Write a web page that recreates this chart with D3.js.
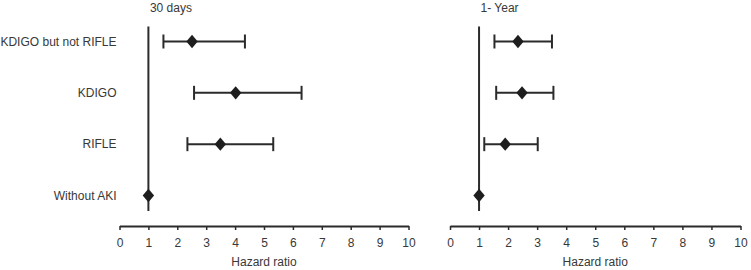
<!DOCTYPE html>
<html>
<head>
<meta charset="utf-8">
<script src="https://cdn.jsdelivr.net/npm/d3@7"></script>
<style>
  body { margin: 0; background: #fff; }
  svg text { font-family: "Liberation Sans", Arial, sans-serif; font-size: 12px; fill: #383838; }
</style>
</head>
<body>
<div id="chart"></div>
<script>
const categories = ["KDIGO but not RIFLE", "KDIGO", "RIFLE", "Without AKI"];
const panelTitles = ["30 days", "1- Year"];
const ticks = [0, 1, 2, 3, 4, 5, 6, 7, 8, 9, 10];

// hazard ratio, lower CI, upper CI (null = no interval drawn)
const hr30 = [2.51, 4.02, 3.49, 1];
const lo30 = [1.52, 2.58, 2.35, null];
const hi30 = [4.34, 6.30, 5.32, null];

const hr1y = [2.34, 2.48, 1.90, 1];
const lo1y = [1.53, 1.59, 1.18, null];
const hi1y = [3.51, 3.56, 3.02, null];

const W = 751, H = 270;
const ink = "#2b2b2b";

const svg = d3.select("#chart").append("svg")
  .attr("width", W)
  .attr("height", H);

const y = d3.scalePoint().domain(categories).range([41.5, 195.5]);

const panels = [
  {title: panelTitles[0], hr: hr30, lo: lo30, hi: hi30, x0: 119.5, x1: 408.5, labels: true},
  {title: panelTitles[1], hr: hr1y, lo: lo1y, hi: hi1y, x0: 450, x1: 740.5, labels: false}
];

const diamond = d3.symbol().type(d3.symbolDiamond).size(85);

panels.forEach(function(p) {
  const x = d3.scaleLinear().domain([0, 10]).range([p.x0, p.x1]);
  const g = svg.append("g");

  // title
  g.append("text")
    .attr("x", x(1) + 1.5)
    .attr("y", 11.5)
    .text(p.title);

  // reference line at HR = 1
  g.append("line")
    .attr("x1", x(1)).attr("x2", x(1))
    .attr("y1", 26.5).attr("y2", 211)
    .attr("stroke", ink)
    .attr("stroke-width", 2);

  // x axis
  const axis = d3.axisBottom(x).tickValues(ticks).tickSize(4).tickPadding(8).tickSizeOuter(0);
  const ax = g.append("g")
    .attr("transform", "translate(0,226)")
    .call(axis);
  ax.select(".domain").attr("stroke", ink).attr("stroke-width", 2);
  ax.selectAll(".tick line").attr("stroke", ink).attr("stroke-width", 1.5);
  ax.selectAll(".tick text")
    .attr("fill", "#383838")
    .style("font-family", "\"Liberation Sans\", Arial, sans-serif")
    .style("font-size", "12px");

  g.append("text")
    .attr("x", (p.x0 + p.x1) / 2)
    .attr("y", 266)
    .attr("text-anchor", "middle")
    .text("Hazard ratio");

  // category labels (left panel only)
  if (p.labels) {
    g.selectAll("text.cat")
      .data(categories)
      .join("text")
      .attr("class", "cat")
      .attr("x", 116.5)
      .attr("y", d => y(d))
      .attr("dy", "0.36em")
      .attr("text-anchor", "end")
      .text(d => d);
  }

  const rows = categories.map((c, i) => ({cat: c, hr: p.hr[i], lo: p.lo[i], hi: p.hi[i]}));
  const ci = rows.filter(d => d.lo !== null);

  // whiskers
  g.selectAll("line.ci")
    .data(ci)
    .join("line")
    .attr("class", "ci")
    .attr("x1", d => x(d.lo)).attr("x2", d => x(d.hi))
    .attr("y1", d => y(d.cat)).attr("y2", d => y(d.cat))
    .attr("stroke", ink)
    .attr("stroke-width", 2);

  // caps
  ["lo", "hi"].forEach(function(k) {
    g.selectAll("line.cap-" + k)
      .data(ci)
      .join("line")
      .attr("class", "cap-" + k)
      .attr("x1", d => x(d[k])).attr("x2", d => x(d[k]))
      .attr("y1", d => y(d.cat) - 7).attr("y2", d => y(d.cat) + 7)
      .attr("stroke", ink)
      .attr("stroke-width", 2);
  });

  // points
  g.selectAll("path.pt")
    .data(rows)
    .join("path")
    .attr("class", "pt")
    .attr("d", diamond)
    .attr("transform", d => "translate(" + x(d.hr) + "," + y(d.cat) + ") scale(1.15,0.78)")
    .attr("fill", "#1e1e1e");
});
</script>
</body>
</html>
